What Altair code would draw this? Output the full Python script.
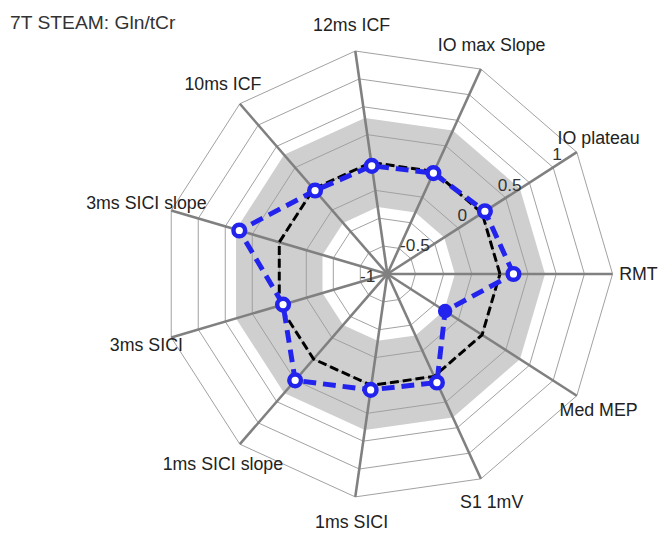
import altair as alt
import pandas as pd

# ---------------- data ----------------
title_text = "7T STEAM: Gln/tCr"
axis_labels = ["RMT", "IO plateau", "IO max Slope", "12ms ICF", "10ms ICF",
               "3ms SICI slope", "3ms SICI", "1ms SICI slope", "1ms SICI",
               "S1 1mV", "Med MEP"]
gln_values = [0.12, 0.03, -0.015, -0.03, -0.02, 0.37, -0.035, 0.25, 0.04, 0.06, -0.39]
filled_point = [False, False, False, False, False, False, False, False, False, False, True]
reference_values = [0, 0, 0, 0, 0, 0, 0, 0, 0, 0, 0]
band_low = [-0.4] * 11
band_high = [0.4] * 11
grid_levels = [-0.75, -0.5, -0.25, 0, 0.25, 0.5, 0.75, 1.0]
tick_values = [-1, -0.5, 0, 0.5, 1]
tick_labels = ["-1", "-0.5", "0", "0.5", "1"]
axis_min = -1
axis_max = 1

N = len(axis_labels)


def polygon_frame(group, vals):
    rows = []
    for k in range(N + 1):
        i = k % N
        rows.append({"group": group, "pos": k, "idx": i, "value": vals[i]})
    return pd.DataFrame(rows)


band_outer_df = polygon_frame("outer", band_high)
band_inner_df = polygon_frame("inner", band_low)
grid_df = pd.concat([polygon_frame(str(lv), [lv] * N) for lv in grid_levels], ignore_index=True)
ref_df = polygon_frame("ref", reference_values)
gln_df = polygon_frame("gln", gln_values)
points_df = pd.DataFrame({"idx": list(range(N)), "value": gln_values, "filled": filled_point})
spokes_df = pd.DataFrame({"idx": list(range(N)), "value": [axis_max] * N})
labels_df = pd.DataFrame({"idx": list(range(N)), "value": [axis_max + 0.23] * N, "label": axis_labels})
ticks_df = pd.DataFrame({"idx": [1] * len(tick_values), "value": tick_values, "label": tick_labels})
title_df = pd.DataFrame({"t": [title_text]})

# ---------------- scales ----------------
W, H = 658, 526
PX = 114.0           # pixels per unit
CX, CY = 384.0, 266.0  # centre inside the plot area
xscale = alt.Scale(domain=[-CX / PX, (W - CX) / PX], nice=False, zero=False)
yscale = alt.Scale(domain=[(CY - H) / PX, CY / PX], nice=False, zero=False)

X = alt.X("px:Q", scale=xscale, axis=None)
Y = alt.Y("py:Q", scale=yscale, axis=None)


def polar(chart):
    return (chart
            .transform_calculate(theta=f"datum.idx * 2 * PI / {N}",
                                 r=f"datum.value - ({axis_min})")
            .transform_calculate(px="datum.r * cos(datum.theta)",
                                 py="datum.r * sin(datum.theta)",
                                 cx="0", cy="0"))


band_outer = polar(alt.Chart(band_outer_df)).mark_line(
    filled=True, fill="#cfcfcf", strokeWidth=0).encode(
    x=X, y=Y, order="pos:Q")
band_inner = polar(alt.Chart(band_inner_df)).mark_line(
    filled=True, fill="#ffffff", strokeWidth=0).encode(
    x=X, y=Y, order="pos:Q")

grid = polar(alt.Chart(grid_df)).mark_line(
    stroke="#a0a0a0", strokeWidth=1).encode(
    x=X, y=Y, order="pos:Q", detail="group:N")

spokes = polar(alt.Chart(spokes_df)).mark_rule(
    stroke="#808080", strokeWidth=2.6).encode(
    x=X, y=Y, x2="cx:Q", y2="cy:Q")

ref_line = polar(alt.Chart(ref_df)).mark_line(
    stroke="#000000", strokeWidth=3, strokeDash=[9, 4]).encode(
    x=X, y=Y, order="pos:Q")

gln_line = polar(alt.Chart(gln_df)).mark_line(
    stroke="#2323ee", strokeWidth=5, strokeDash=[13, 7]).encode(
    x=X, y=Y, order="pos:Q")

points_open = polar(alt.Chart(points_df)).transform_filter(
    "!datum.filled").mark_point(
    shape="circle", filled=True, fill="#ffffff", stroke="#2323ee",
    strokeWidth=4.5, size=140, opacity=1).encode(x=X, y=Y)

points_filled = polar(alt.Chart(points_df)).transform_filter(
    "datum.filled").mark_point(
    shape="circle", filled=True, fill="#2323ee", stroke="#2323ee",
    strokeWidth=2, size=160, opacity=1).encode(x=X, y=Y)

ticks = polar(alt.Chart(ticks_df)).mark_text(
    fontSize=17.5, font="Liberation Sans", color="#333333",
    align="center", baseline="middle", dx=-20, dy=3).encode(
    x=X, y=Y, text="label:N")

labels = polar(alt.Chart(labels_df)).mark_text(
    fontSize=18, font="Liberation Sans", color="#222222",
    align="center", baseline="middle", dy=1).encode(
    x=X, y=Y, text="label:N")

title = alt.Chart(title_df).mark_text(
    fontSize=19.5, font="Liberation Sans", color="#333333",
    align="left", baseline="middle").encode(
    x=alt.value(2), y=alt.value(12), text="t:N")

chart = alt.layer(
    band_outer, band_inner, grid, spokes, ref_line, gln_line,
    points_open, points_filled, ticks, labels, title
).properties(
    width=W, height=H, padding=0,
    autosize=alt.AutoSizeParams(type="none")
).configure_view(stroke=None)

chart.save("out.html", embed_options={"renderer": "svg", "actions": False})
